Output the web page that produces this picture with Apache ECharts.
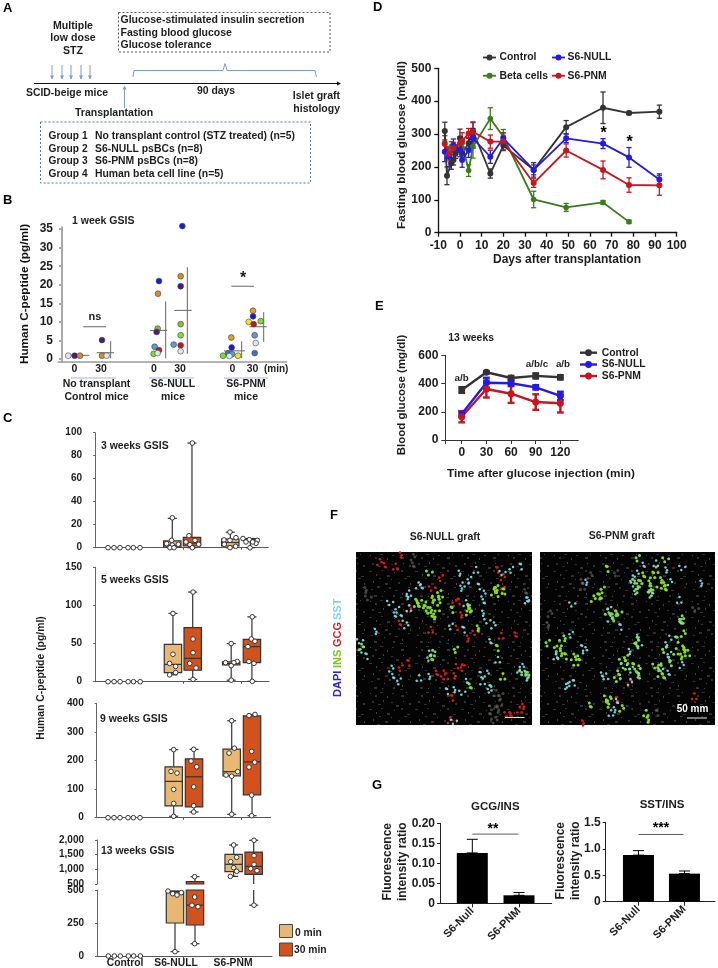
<!DOCTYPE html>
<html><head><meta charset="utf-8">
<style>html,body{margin:0;padding:0;background:#fff}#main{width:718px;height:968px;filter:blur(.3px)}</style>
<script src="https://cdn.jsdelivr.net/npm/echarts@6/dist/echarts.min.js"></script>
</head><body><div id="main"></div>
<script>
// ---------- Panel B: C-peptide at 1 week, [slot position, pg/ml, colour key]
const bNone0=[[205,0.9,'w'],[224,0.9,'p'],[240,0.9,'o']];
const bNone30=[[306,0.9,'o'],[320,0.9,'w'],[306,5.1,'p']];
const bNull0=[[477,21,'b'],[474,17.6,'o'],[473,8.2,'v'],[470,7.3,'p'],[464,3.3,'l'],[477,2.4,'r'],[461,1.4,'g'],[473,1.6,'w']];
const bNull30=[[547,35.8,'b'],[542,22.3,'o'],[542,19.6,'p'],[542,9.4,'v'],[542,6.4,'g'],[521,3.9,'l'],[542,3.7,'r'],[542,2.1,'w']];
const bPnm0=[[694,5.8,'a'],[695,3.1,'b'],[684,1.5,'s'],[696,1.3,'l'],[669,0.9,'g'],[688,0.8,'w'],[714,0.9,'y']];
const bPnm30=[[759,13,'a'],[759,11.5,'b'],[746,10,'y'],[782,10.2,'g'],[761,9.4,'r'],[764,6.4,'l'],[767,4.3,'w'],[764,1.6,'s']];
// mean line [from,to,mean], sd [x,lo,hi]
const bMeans=[[205,268,1],[290,342,1.7],[450,502,7.7],[523,575,13.1],[672,735,2.2],[748,800,8.7]];
const bSD=[[332,0.2,4.8],[497,0.2,15.5],[562,1.4,24.7],[725,0.2,4.8],[791,4.6,12.6]];
const bSig=[[250,318,8.7],[694,762,19.6]];
const bTicks=[0,5,10,15,20,25,30,35];
// ---------- Panel C boxes [x, whiskerLow, q1, median, q3, whiskerHigh]
const ctrlSlots=[324,342,360,384,400,420];
const c3Box=[[517,0,0.5,2,6,25.5],[576,0,1.5,4,9,91],[691,0,1.5,4.5,7.5,13.5],[751,0,7.4,7.4,7.6,8]];
const c3Dots=[[517,26],[515,6.4],[500,3.5],[535,3],[517,2.3],[510,0],[522,0],[577,91],[567,10.4],[585,6.4],[558,5],[596,3],[570,2.6],[577,0],[690,13.6],[708,8.7],[672,6.7],[690,6.4],[673,3],[707,1.2],[690,0],[729,8],[748,7],[772,6.4],[768,3.8],[738,5],[758,5],[750,0]];
const c5Box=[[518,9,12,22.7,49,89.5],[577,3,15,30.6,71,117.5],[692,2,22,24,26,50],[754,0.5,25,46,55.5,85]];
const c5Dots=[[518,89.5],[518,36],[508,24],[526,20],[526,12],[508,9],[578,117.5],[578,56],[578,38],[568,24],[587,18],[578,3],[692,50],[710,26.6],[675,25],[700,25],[692,21],[692,2],[755,85],[752,56],[763,53],[742,46],[745,26.6],[760,24],[755,0.5]];
const c9Box=[[521,5,41,127,178,238],[582,20,38,143,206,239],[695,12,146,161,240,339],[756,7,80,195,356,361]];
const c9Dots=[[521,238],[513,162],[531,156],[521,99],[521,50],[521,5],[581,239],[573,198],[590,178],[581,108],[581,42],[581,20],[695,339],[703,243],[687,226],[713,161],[678,149],[695,145],[695,12],[765,361],[747,357],[755,232],[764,194],[747,177],[755,79],[755,7]];
const c13Box=[[524,33,250,485,490,492],[584,93,235,385,580,750],[700,760,920,1170,1511,1830],[760,385,830,1100,1590,1990]];
const c13Dots=[[524,33],[503,492],[517,472],[530,462],[543,480],[583,750],[583,447],[575,385],[593,373],[583,93],[700,1830],[709,1410],[691,1260],[700,1057],[709,932],[690,760],[761,1990],[761,1465],[761,1170],[751,1023],[770,955],[761,385]];
// ---------- Panel D: fasting glucose
const dCtrlDays=[-7,-6,-4,-3,-2,0,1,4,6,14,20,34,49,66,78,92];
const dCtrl=[309,173,211,221,241,287,241,272,310,180,265,191,321,380,364,368];
const dCtrlErr=[27,27,18,15,15,28,20,18,25,14,13,22,20,48,5,20];
const dNullDays=[-7,-5,-3,0,1,4,6,14,20,34,49,66,78,92];
const dNull=[246,231,265,251,221,251,287,231,287,191,287,271,229,162];
const dNullErr=[30,30,20,20,22,22,30,20,17,15,13,15,30,17];
const dPnmDays=[-7,-5,-3,0,1,4,6,14,20,34,49,66,78,92];
const dPnm=[270,241,257,272,279,302,307,277,277,151,250,191,145,144];
const dPnmErr=[25,20,18,20,25,15,30,20,27,13,20,27,22,30];
const dBetaDays=[-6,-4,1,4,6,14,20,34,49,66,78];
const dBeta=[241,262,272,189,262,347,292,101,77,92,33];
const dBetaErr=[15,15,15,18,35,33,22,25,12,6,5];
// ---------- Panel E: glucose tolerance
const eTimes=[0,30,60,90,120];
const eCtrl=[354,480,439,454,444], eCtrlErr=[20,8,15,18,15];
const eNull=[184,406,402,373,312], eNullErr=[20,35,20,15,30];
const ePnm=[165,361,328,269,260], ePnmErr=[40,60,65,55,65];
const fNullGreen=[[180,160],[195,160],[210,165],[225,150],[240,140],[255,130],[205,175],[220,180],[235,190],[245,175],[230,200],[190,150],[260,150],[285,180],[335,185],[345,165],[340,175],[415,120],[430,130],[425,115],[440,125],[410,125],[235,320],[230,310],[510,375],[500,365],[305,300],[420,295],[15,290],[350,405],[440,380],[360,235],[222,65]];
const fNullCyan=[[185,105],[205,105],[160,130],[150,140],[105,155],[130,180],[135,205],[150,225],[125,190],[160,175],[310,115],[330,100],[345,90],[365,110],[380,130],[390,150],[360,60],[305,70],[440,65],[470,60],[490,50],[510,150],[520,145],[330,160],[375,190],[395,210],[290,230],[320,240],[410,225],[410,270],[425,330],[55,245],[15,270],[25,300],[30,320],[105,355],[120,375],[190,385],[215,380],[230,305],[225,325],[370,375],[390,370],[340,390],[380,395],[290,420],[320,425],[405,420],[400,415],[495,350],[515,365],[490,360],[505,385],[295,512],[135,395],[270,425]];
const fNullRed=[[70,35],[95,42],[120,50],[130,15],[230,112],[300,160],[305,155],[158,175],[140,215],[225,240],[310,195],[310,230],[445,120],[420,60],[438,80],[485,250],[435,258],[330,265],[360,245],[140,355],[155,340],[260,370],[250,365],[270,380],[290,378],[310,345],[325,355],[285,445],[280,510],[470,490],[490,480],[495,470],[455,490],[260,85]];
const fNullGrey=[[170,20],[180,40],[430,460],[420,480],[410,470],[440,440],[400,500],[415,510],[515,120],[420,430],[25,120],[40,140]];
const fPnmGreen=[[300,100],[320,70],[340,75],[360,90],[345,110],[300,120],[330,130],[370,105],[385,110],[350,60],[325,100],[290,90],[195,120],[175,140],[160,145],[190,135],[205,185],[225,190],[240,185],[230,205],[215,200],[425,205],[435,210],[60,280],[70,265],[55,295],[30,280],[75,320],[100,320],[125,320],[110,338],[60,310],[250,330],[265,325],[280,350],[295,355],[245,365],[265,350],[290,375],[235,385],[380,300],[410,270],[430,250],[440,290],[445,310],[420,320],[350,345],[365,355],[390,340],[360,370],[380,375],[410,305],[430,300],[205,440],[215,455],[200,465],[245,475],[160,462],[320,490],[320,510],[380,25],[300,25],[200,57],[290,270],[300,280]];
const fPnmCyan=[[290,70],[320,40],[350,40],[375,60],[285,100],[295,125],[325,135],[390,95],[345,120],[280,85],[135,97],[100,160],[215,180],[240,232],[210,205],[430,210],[420,150],[480,100],[430,50],[100,255],[125,295],[135,300],[60,315],[50,320],[265,305],[255,345],[280,360],[295,378],[270,395],[195,370],[200,380],[375,285],[400,260],[395,315],[385,330],[425,345],[395,365],[365,350],[290,262],[300,285],[90,405],[100,400],[82,408],[240,450],[215,490],[220,480]];
const fPnmRed=[[270,398],[240,445],[465,440],[125,520]];
const fPnmGrey=[[150,75],[135,90],[130,110],[20,225],[470,175],[235,70],[350,490],[30,190]];
// ---------- Panel G
const gNames=['S6-Null','S6-PNM'];
const gGcg=[0.126,0.02], gGcgHi=[0.16,0.027];
const gSst=[0.88,0.53], gSstHi=[0.965,0.58];

const FONT='"Liberation Sans",Arial,sans-serif', INK='#1c1c1c';
const COL={ctrl:'#333333',nul:'#2419E6',pnm:'#C9151E',beta:'#3A7D1A',tan:'#E8B872',org:'#D2521E'};
const DOT={w:'#DCE8F0',p:'#4B1A7F',o:'#D98A2B',b:'#1A1AD8',v:'#8DB83A',g:'#7AE02A',l:'#5B9BD5',r:'#C8141C',s:'#4472B0',y:'#F5E61A',a:'#E0A020'};

const grids=[],xAxes=[],yAxes=[],series=[],gfx=[];
function addGrid(box,x,y){
  const i=grids.length;
  grids.push({left:box[0],top:box[1],width:box[2],height:box[3],containLabel:false});
  xAxes.push(Object.assign({gridIndex:i,type:'value',splitLine:{show:false},axisLine:{onZero:false}},x));
  yAxes.push(Object.assign({gridIndex:i,type:'value',splitLine:{show:false},axisLine:{onZero:false}},y));
  return i;
}
function axisStyle(color,w,len,font,margin,extra){
  return Object.assign({axisLine:{show:true,onZero:false,lineStyle:{color:color,width:w}},
    axisTick:{show:true,length:len,lineStyle:{color:color,width:w}},
    axisLabel:{color:INK,fontFamily:FONT,fontWeight:'bold',fontSize:font,margin:margin}},extra||{});
}
function seg(g,a,b,color,w){
  series.push({type:'line',xAxisIndex:g,yAxisIndex:g,data:[a,b],showSymbol:false,silent:true,clip:false,lineStyle:{color:color,width:w},itemStyle:{color:color}});
}
function errs(g,items,color,w,cap){
  series.push({type:'custom',xAxisIndex:g,yAxisIndex:g,silent:true,clip:false,z:3,data:items,encode:{x:0,y:[1,2]},
    renderItem:function(p,api){
      const x=api.value(0),l=api.coord([x,api.value(1)]),h=api.coord([x,api.value(2)]);
      const st={stroke:color,lineWidth:w,fill:null};
      return {type:'group',children:[
        {type:'line',shape:{x1:l[0],y1:l[1],x2:h[0],y2:h[1]},style:st},
        {type:'line',shape:{x1:h[0]-cap,y1:h[1],x2:h[0]+cap,y2:h[1]},style:st},
        {type:'line',shape:{x1:l[0]-cap,y1:l[1],x2:l[0]+cap,y2:l[1]},style:st}]};
    }});
}
function lineS(g,name,days,vals,err,color,lw,sym,ew,cap){
  errs(g,days.map((d,i)=>[d,vals[i]-err[i],vals[i]+err[i]]),color,ew,cap);
  series.push({type:'line',name:name,xAxisIndex:g,yAxisIndex:g,z:4,data:days.map((d,i)=>[d,vals[i]]),symbol:'circle',symbolSize:sym,clip:false,
    lineStyle:{color:color,width:lw},itemStyle:{color:color}});
}
function boxes(g,data){
  const fills=[COL.tan,COL.org,COL.tan,COL.org];
  series.push({type:'custom',xAxisIndex:g,yAxisIndex:g,silent:true,z:3,data:data.map((d,i)=>d.concat([i])),encode:{x:0,y:[1,5]},
    renderItem:function(p,api){
      const r=p.coordSys,x=api.value(0),yBot=r.y+r.height,yTop=r.y;
      const Y=v=>api.coord([x,v])[1], cl=y=>Math.max(yTop,Math.min(yBot,y));
      const wl=Y(api.value(1)),q1=Y(api.value(2)),m=Y(api.value(3)),q3=Y(api.value(4)),wh=Y(api.value(5));
      const px=api.coord([x,api.value(3)])[0],W=8.7,C=4.5,st={stroke:'#333',lineWidth:1.2,fill:null},kids=[];
      const wh1=(a,b)=>{if(!(a<yTop&&b<yTop)&&!(a>yBot&&b>yBot))kids.push({type:'line',shape:{x1:px,y1:cl(a),x2:px,y2:cl(b)},style:st});};
      wh1(wl,q1);wh1(q3,wh);
      [wl,wh].forEach(v=>{if(v>=yTop&&v<=yBot)kids.push({type:'line',shape:{x1:px-C,y1:v,x2:px+C,y2:v},style:st});});
      if(!(q3>yBot||q1<yTop)){
        kids.push({type:'rect',shape:{x:px-W,y:cl(q3),width:2*W,height:cl(q1)-cl(q3)},style:{stroke:api.value(2)===api.value(4)?'none':'#333',lineWidth:1.2,fill:fills[api.value(6)]}});
        if(m>=yTop&&m<=yBot)kids.push({type:'line',shape:{x1:px-W,y1:m,x2:px+W,y2:m},style:st});
      }
      return {type:'group',children:kids};
    }});
}
function dots(g,data){
  series.push({type:'scatter',xAxisIndex:g,yAxisIndex:g,z:5,silent:true,clip:false,data:data,symbol:'circle',symbolSize:4.6,itemStyle:{color:'#fff',borderColor:'#333',borderWidth:1,opacity:1}});
}
function T(x,y,s,o){
  o=o||{};
  gfx.push({type:'text',x:x,y:y,rotation:o.rot||0,z:20,style:{text:s,fill:o.fill||INK,fontFamily:FONT,fontSize:o.size||10,fontWeight:o.weight||'bold',textAlign:o.align||'left',textVerticalAlign:'middle'}});
}
function L(x1,y1,x2,y2,c,w,dash){gfx.push({type:'line',z:10,shape:{x1,y1,x2,y2},style:{stroke:c,lineWidth:w||1,lineDash:dash||null}});}
function P(pts,c,w){gfx.push({type:'polyline',z:10,shape:{points:pts},style:{stroke:c,lineWidth:w||1,fill:null}});}
function Tri(x,y,dir,c){ // small arrow head
  const s=dir==='r'?[[x,y],[x-4,y-2],[x-4,y+2]]:[[x,y],[x-2,y+(dir==='d'?-4:4)],[x+2,y+(dir==='d'?-4:4)]];
  gfx.push({type:'polygon',z:10,shape:{points:s},style:{fill:c}});
}

// ===== Panel letters
[['A',3,8],['B',3,200],['C',3,418],['D',373,7],['E',375,306],['F',330,515],['G',372,785]].forEach(a=>T(a[1],a[2],a[0],{size:13,fill:'#000'}));

// ===== Panel A (schematic)
const ARW='#7D9BD8';
['Multiple','low dose','STZ'].forEach((s,i)=>T(73,[26,38,51][i],s,{align:'center',size:10.6}));
gfx.push({type:'rect',z:10,shape:{x:118.5,y:12.5,width:211.5,height:39.5},style:{fill:null,stroke:'#555',lineWidth:1,lineDash:[2,2]}});
['Glucose-stimulated insulin secretion','Fasting blood glucose','Glucose tolerance'].forEach((s,i)=>T(120.5,[20,33,45.5][i],s,{size:10.5}));
[52,62,71,81,90].forEach(x=>{L(x,65,x,79,ARW,1);Tri(x,79.5,'d',ARW);});
L(34,83.5,339,83.5,'#111',1);Tri(341,83.5,'r','#111');
T(26,93,'SCID-beige mice',{size:10.4});
L(124.5,88,124.5,108,ARW,1);Tri(124.5,85.5,'u',ARW);
T(75,113.5,'Transplantation',{size:10.5});
P([[133,77],[134,70.5],[223,70.5],[225,63.5],[227,70.5],[315,70.5],[316.5,77]],ARW,1);
T(216,91,'90 days',{align:'center',size:10.4});
T(340,96,'Islet graft',{align:'right',size:10.5});T(340,109.5,'histology',{align:'right',size:10.5});
gfx.push({type:'rect',z:10,shape:{x:40.5,y:122,width:270,height:61},style:{fill:null,stroke:'#5A72B0',lineWidth:1,lineDash:[2,2]}});
[['Group 1','No transplant control (STZ treated) (n=5)'],['Group 2','S6-NULL psBCs (n=8)'],['Group 3','S6-PNM psBCs (n=8)'],['Group 4','Human beta cell line (n=5)']].forEach((r,i)=>{
  const y=[136,149,161,174.5][i];T(48.5,y,r[0],{size:10.2});T(95,y,r[1],{size:10.4});});

// ===== Panel B
const gB=addGrid([58.3,227.2,228.4,134.8],
  axisStyle('#9a9a9a',1.5,0,12,0,{min:175,max:860,axisLabel:{show:false},axisTick:{show:false}}),
  {min:-0.8,max:35.5,show:false});
const gBy=addGrid([62,227.2,1,134.8],{min:0,max:1,show:false},
  axisStyle('#a8a8a8',2,3,12,9,{min:-0.8,max:35.5}));
yAxes[gBy].axisTick.customValues=bTicks;yAxes[gBy].axisLabel.customValues=bTicks;
bMeans.forEach(m=>seg(gB,[m[0],m[2]],[m[1],m[2]],'#666',1));
bSD.forEach(s=>seg(gB,[s[0],s[1]],[s[0],s[2]],'#666',1));
bSig.forEach(s=>seg(gB,[s[0],s[2]],[s[1],s[2]],'#666',1));
series.push({type:'scatter',xAxisIndex:gB,yAxisIndex:gB,z:5,silent:true,clip:false,symbol:'circle',symbolSize:5.8,
  data:[].concat(bNone0,bNone30,bNull0,bNull30,bPnm0,bPnm30).map(d=>({value:[d[0],d[1]],itemStyle:{color:DOT[d[2]],opacity:1}})),
  itemStyle:{borderColor:'#444',borderWidth:0.6,opacity:1}});
T(72,221,'1 week GSIS',{size:10.5});
T(95,317,'ns',{align:'center',size:11});T(243,279,'*',{align:'center',size:16});
T(25,294,'Human C-peptide (pg/ml)',{align:'center',size:11.8,rot:Math.PI/2,fill:'#111'});
[[74.5,'0'],[101,'30'],[154,'0'],[180,'30'],[232.5,'0'],[252.5,'30']].forEach(a=>T(a[0],369,a[1],{align:'center',size:10.5}));
T(264,369,'(min)',{size:10});
[[71,116],[149,194],[224,268]].forEach(u=>L(u[0],378,u[1],378,'#C5CDE6',1.5));
T(96.5,384.5,'No transplant',{align:'center',size:10.5});T(96.5,397,'Control mice',{align:'center',size:10.5});
T(173,384.5,'S6-NULL',{align:'center',size:10.5});T(173,397,'mice',{align:'center',size:10.5});
T(246,384.5,'S6-PNM',{align:'center',size:10.5});T(246,397,'mice',{align:'center',size:10.5});

// ===== Panel C
const cx=(extra)=>Object.assign(axisStyle('#555',1,2,10,0,{min:285,max:805}),extra||{});
function cPanel(box,ymin,ymax,step,boxData,dotData,pad,withCtrl,xOpts){
  const y=axisStyle('#666',1,2,10,13,{min:ymin,max:ymax,interval:step});
  y.axisLabel.padding=[0,0,pad,0];
  y.axisLabel.formatter=v=>v>=1000?String(v).replace(/(\d)(\d{3})$/,'$1,$2'):String(v);
  const x=cx(xOpts);
  x.axisLabel={show:false};x.axisTick=Object.assign(x.axisTick,{customValues:[549,723]});
  const g=addGrid(box,x,y);
  boxes(g,boxData);
  dots(g,dotData.filter(d=>d[1]>=ymin&&d[1]<=ymax));
  if(withCtrl)dots(g,ctrlSlots.map(s=>[s,0]));
  return g;
}
cPanel([95,432.7,173.3,115],0,100,20,c3Box,c3Dots,5,true);
cPanel([95,567.3,174,114.4],0,150,50,c5Box,c5Dots,5,true);
cPanel([96.7,703.3,174,114.4],0,400,100,c9Box,c9Dots,5,true,{min:290,max:812});
cPanel([97,890,175,66],0,500,250,c13Box,c13Dots,5,true,{min:290,max:815});
cPanel([97,840,175,44],500,2000,500,c13Box,c13Dots,8,false,{min:290,max:815,axisLine:{show:false},axisTick:{show:false}});
xAxes[xAxes.length-1].axisLine={show:false};
xAxes[xAxes.length-1].axisTick={show:false};
T(101,446,'3 weeks GSIS',{size:10.4});T(101,580,'5 weeks GSIS',{size:10.4});
T(100,719.5,'9 weeks GSIS',{size:10.4});T(101,851.5,'13 weeks GSIS',{size:10.4});
T(41,678,'Human C-peptide (pg/ml)',{align:'center',size:10.4,rot:Math.PI/2});
T(125,963,'Control',{align:'center',size:10.3});T(176,963,'S6-NULL',{align:'center',size:10.3});T(233,963,'S6-PNM',{align:'center',size:10.3});
gfx.push({type:'rect',z:10,shape:{x:279.5,y:924.5,width:13,height:13},style:{fill:COL.tan,stroke:'#444',lineWidth:1}});
gfx.push({type:'rect',z:10,shape:{x:279.5,y:943,width:13,height:13},style:{fill:COL.org,stroke:'#444',lineWidth:1}});
T(295,933,'0 min',{size:10.3});T(294,950,'30 min',{size:10.3});

// ===== Panel D
const gD=addGrid([438.3,68.3,238.4,164.4],
  axisStyle('#111',1.3,4,12,7,{min:-10,max:100,interval:10}),
  axisStyle('#111',1.3,4,12,7,{min:0,max:500,interval:100}));
lineS(gD,'Control',dCtrlDays,dCtrl,dCtrlErr,COL.ctrl,1.8,6,1.3,2.6);
lineS(gD,'Beta cells',dBetaDays,dBeta,dBetaErr,COL.beta,1.8,5.5,1.3,2.6);
lineS(gD,'S6-NULL',dNullDays,dNull,dNullErr,COL.nul,1.8,6,1.3,2.6);
lineS(gD,'S6-PNM',dPnmDays,dPnm,dPnmErr,COL.pnm,1.8,6,1.3,2.6);
function legItem(x1,x2,y,tx,s,c,size,lw,r){
  L(x1,y,x2,y,c,lw);
  gfx.push({type:'circle',z:11,shape:{cx:(x1+x2)/2,cy:y,r:r},style:{fill:c}});
  T(tx,y,s,{size:size});
}
legItem(483,496,57.5,499.5,'Control',COL.ctrl,10.4,1.8,3);
legItem(552,565,57.5,567.5,'S6-NULL',COL.nul,10.4,1.8,3);
legItem(483,496,75.7,499.5,'Beta cells',COL.beta,10.4,1.8,3);
legItem(552,565,75.7,567.5,'S6-PNM',COL.pnm,10.4,1.8,3);
T(603.7,134,'*',{align:'center',size:16,fill:'#000'});T(629.7,143,'*',{align:'center',size:16,fill:'#000'});
T(567,260,'Days after transplantation',{align:'center',size:12});
T(402,145,'Fasting blood glucose (mg/dl)',{align:'center',size:11.8,rot:Math.PI/2});

// ===== Panel E
const eX=axisStyle('#333',1,4,12,7,{min:-20,max:141.8});
eX.axisTick.customValues=[-20,0,30,60,90,120];eX.axisLabel.customValues=eTimes;
const gE=addGrid([445.3,355.3,133,84.7],eX,axisStyle('#333',1,4,12,7,{min:0,max:600,interval:200}));
lineS(gE,'Control',eTimes,eCtrl,eCtrlErr,COL.ctrl,2.4,7,2.4,3.4);
lineS(gE,'S6-NULL',eTimes,eNull,eNullErr,COL.nul,2.4,7,2.4,3.4);
lineS(gE,'S6-PNM',eTimes,ePnm,ePnmErr,COL.pnm,2.4,7,2.4,3.4);
legItem(580,597,352.7,601.7,'Control',COL.ctrl,10.4,2.4,3.4);
legItem(580,597,364.5,601.7,'S6-NULL',COL.nul,10.4,2.4,3.4);
legItem(580,597,376,601.7,'S6-PNM',COL.pnm,10.4,2.4,3.4);
T(448.3,337.7,'13 weeks',{size:10.4});
T(461.7,378,'a/b',{align:'center',size:9.8});T(537,364,'a/b/c',{align:'center',size:9.8});T(563,364,'a/b',{align:'center',size:9.8});
T(401.7,395,'Blood glucose (mg/dl)',{align:'center',size:11.5,rot:Math.PI/2});
T(541,474,'Time after glucose injection (min)',{align:'center',size:11.8});

// ===== Panel F
const tileSpots=[[2,3],[7,5],[12,2],[19,6],[24,3],[33,5],[38,2],[4,11],[10,14],[15,10],[23,12],[28,15],[35,11],[41,13],[1,19],[8,22],[13,18],[19,23],[26,20],[33,18],[39,24],[5,29],[11,26],[17,31],[23,27],[30,30],[36,26],[42,31],[3,37],[9,34],[16,39],[21,35],[27,38],[34,41],[40,35],[6,43],[14,44],[25,43],[32,45]];
const tile=document.createElement('canvas');tile.width=tile.height=46;
(function(){const c=tile.getContext('2d');c.fillStyle='#030403';c.fillRect(0,0,46,46);
  tileSpots.forEach((s,i)=>{c.fillStyle=i%3===0?'rgba(115,117,108,.55)':'rgba(85,88,80,.55)';c.fillRect(s[0],s[1],1+(i%3),1+(i%2));});})();
// speck directions around each reading, so a reading reads as an irregular blot
const speckDirs=[[3,0],[-2,2.4],[1.5,-2.8],[-3,-1],[2.4,2.2],[-1,3],[0.5,-3.2]];
function micro(box,green,cyan,red,grey){
  gfx.unshift({type:'rect',z:1,shape:{x:box[0],y:box[1],width:box[2],height:box[3]},style:{fill:{image:tile,repeat:'repeat'}}});
  const ax={min:3,max:528,show:false};
  const g=addGrid(box,ax,{min:5,max:525,inverse:true,show:false});
  const sc=(d,c,sz,op)=>[0,2,5].forEach(k=>series.push({type:'scatter',xAxisIndex:g,yAxisIndex:g,z:4,silent:true,symbol:'circle',symbolSize:sz,itemStyle:{color:c,opacity:op},
    data:d.map((p,i)=>({value:p,symbolOffset:speckDirs[(i*3+k)%7]}))}));
  sc(grey,'#77776f',3,.55);sc(red,'#E8141C',2.6,1);sc(green,'#86DE1E',3,1);sc(cyan,'#79DDE2',2.5,.95);
}
micro([356,552,176,173],fNullGreen,fNullCyan,fNullRed,fNullGrey);
micro([540,552,175,173],fPnmGreen,fPnmCyan,fPnmRed,fPnmGrey);
L(505,717.5,524.5,717.5,'#e8e8e8',1);L(687,718,707,718,'#e8e8e8',1);
T(692.5,709,'50 mm',{align:'center',size:10,fill:'#fff'});
T(445,537,'S6-NULL graft',{align:'center',size:10.5});T(621.7,536,'S6-PNM graft',{align:'center',size:10.5});
[['DAPI','#2A22E8',697],['INS','#7CC41C',668],['GCG','#D8141C',647],['SST','#7FD8E6',620]].forEach(a=>
  gfx.push({type:'text',x:338,y:a[2],rotation:Math.PI/2,z:20,style:{text:a[0],fill:a[1],fontFamily:FONT,fontWeight:'bold',fontSize:11,textAlign:'left',textVerticalAlign:'middle'}}));

// ===== Panel G
function barPanel(box,xmin,xmax,ymax,step,vals,his,xs,sig,stars,starX){
  const x=axisStyle('#222',1,4,11,6,{min:xmin,max:xmax});
  x.axisTick.customValues=xs;x.axisLabel.customValues=xs;x.axisLabel.rotate=45;
  x.axisLabel.formatter=v=>gNames[v-1];
  const y=axisStyle('#222',1,3,12,5,{min:0,max:ymax,interval:step});
  y.axisLabel.formatter=v=>v===0?'0':(step<0.1?v.toFixed(2):v.toFixed(1));
  const g=addGrid(box,x,y);
  series.push({type:'bar',xAxisIndex:g,yAxisIndex:g,barWidth:31,data:xs.map((a,i)=>[a,vals[i]]),itemStyle:{color:'#000'}});
  errs(g,xs.map((a,i)=>[a,vals[i],his[i]]),'#000',1,5.5);
  seg(g,sig[0],sig[1],'#333',0.8);
  T(starX,sig[2],stars,{align:'center',size:14,fill:'#000'});
}
barPanel([440,823.3,111.7,80],0.308,2.70,0.2,0.05,gGcg,gGcgHi,[1,2],[[1,0.173],[1.985,0.173],829],'**',493);
barPanel([605.7,822.3,109.3,79.4],0.288,2.664,1.5,0.5,gSst,gSstHi,[1,2],[[1,1.27],[1.98,1.27],828],'***',661);
T(495.3,807,'GCG/INS',{align:'center',size:11.5});T(662,805,'SST/INS',{align:'center',size:11.5});
T(388,861.7,'Fluorescence',{align:'center',size:12,rot:Math.PI/2});T(403,861.7,'intensity ratio',{align:'center',size:12,rot:Math.PI/2});
T(560.7,860.7,'Fluorescence',{align:'center',size:12,rot:Math.PI/2});T(576,860.7,'intensity ratio',{align:'center',size:12,rot:Math.PI/2});

const chart=echarts.init(document.getElementById('main'),null,{renderer:'canvas',width:718,height:968});
chart.setOption({animation:false,backgroundColor:'#fff',textStyle:{fontFamily:FONT},grid:grids,xAxis:xAxes,yAxis:yAxes,series:series,graphic:{elements:gfx}});
</script></body></html>
